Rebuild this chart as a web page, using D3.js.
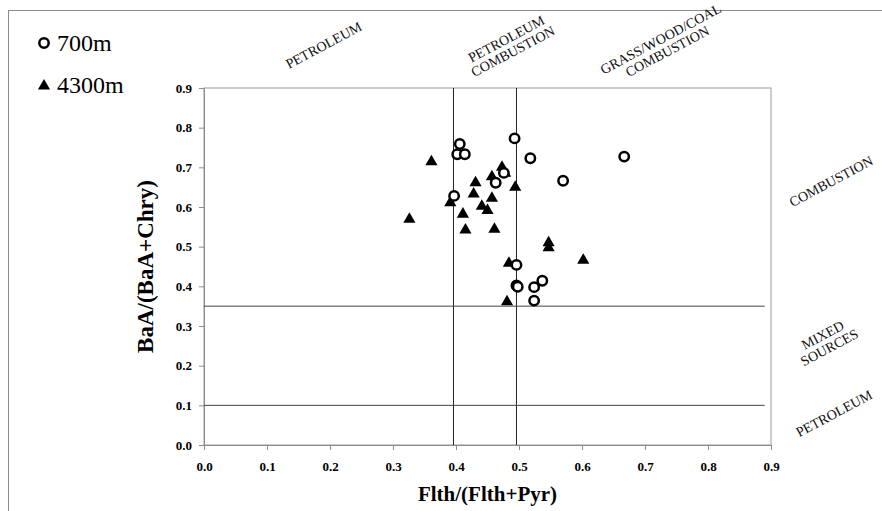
<!DOCTYPE html>
<html>
<head>
<meta charset="utf-8">
<script src="https://cdn.jsdelivr.net/npm/d3@7"></script>
<style>
  html, body { margin: 0; padding: 0; background: #fff; }
  svg { display: block; font-family: "Liberation Serif", "Times New Roman", serif; }
</style>
</head>
<body>
<svg id="chart" width="882" height="511"></svg>
<script>
// Fluoranthene / pyrene vs benz[a]anthracene / chrysene diagnostic ratios
const seriesNames = ["700m", "4300m"];

const x700 = [0.406, 0.402, 0.414, 0.493, 0.518, 0.667, 0.476, 0.463, 0.570, 0.397,
              0.496, 0.496, 0.498, 0.524, 0.537, 0.524];
const y700 = [0.759, 0.733, 0.733, 0.773, 0.723, 0.727, 0.686, 0.661, 0.666, 0.628,
              0.454, 0.402, 0.399, 0.398, 0.414, 0.364];

const x4300 = [0.361, 0.326, 0.473, 0.457, 0.478, 0.431, 0.428, 0.494, 0.391, 0.457,
               0.441, 0.450, 0.411, 0.415, 0.461, 0.547, 0.547, 0.602, 0.484, 0.481];
const y4300 = [0.714, 0.569, 0.700, 0.676, 0.685, 0.661, 0.633, 0.650, 0.611, 0.622,
               0.602, 0.591, 0.582, 0.542, 0.544, 0.510, 0.497, 0.466, 0.458, 0.361];

const xTicks = [0, 0.1, 0.2, 0.3, 0.4, 0.5, 0.6, 0.7, 0.8, 0.9];
const yTicks = [0, 0.1, 0.2, 0.3, 0.4, 0.5, 0.6, 0.7, 0.8, 0.9];

// source boundaries
const xBounds = [0.396, 0.496];
const yBounds = [0.35, 0.1];
const yBoundEnd = 0.89;

const topZones = [
  { x: 0.19, lines: ["PETROLEUM"] },
  { x: 0.485, lines: ["PETROLEUM", "COMBUSTION"] },
  { x: 0.73, lines: ["GRASS/WOOD/COAL", "COMBUSTION"] }
];
const rightZones = [
  { y: 0.665, dx: 3, lines: ["COMBUSTION"] },
  { y: 0.262, dx: -2, lines: ["MIXED", "SOURCES"] },
  { y: 0.08, dx: 6, lines: ["PETROLEUM"] }
];

const xTitle = "Flth/(Flth+Pyr)";
const yTitle = "BaA/(BaA+Chry)";

const svg = d3.select("#chart");
const x = d3.scaleLinear().domain([0, 0.9]).range([204, 771]);
const y = d3.scaleLinear().domain([0, 0.9]).range([445, 88]);

// outer chart frame
svg.append("rect")
  .attr("x", 8.5).attr("y", 10.5).attr("width", 1000).attr("height", 1000)
  .attr("fill", "none").attr("stroke", "#8c8c8c").attr("stroke-width", 1);

// plot frame
svg.append("rect")
  .attr("x", x(0)).attr("y", y(0.9))
  .attr("width", x(0.9) - x(0)).attr("height", y(0) - y(0.9))
  .attr("fill", "none").attr("stroke", "#9a9a9a").attr("stroke-width", 1);

// axes
const fmt = d3.format(".1f");
const gx = svg.append("g").attr("transform", `translate(0,${y(0)})`)
  .call(d3.axisBottom(x).tickValues(xTicks).tickFormat(fmt).tickSizeInner(5).tickSizeOuter(0).tickPadding(12));
const gy = svg.append("g").attr("transform", `translate(${x(0)},0)`)
  .call(d3.axisLeft(y).tickValues(yTicks).tickFormat(fmt).tickSizeInner(5).tickSizeOuter(0).tickPadding(7));
[gx, gy].forEach(g => {
  g.select(".domain").attr("stroke", "#8c8c8c");
  g.selectAll(".tick line").attr("stroke", "#8c8c8c");
  g.selectAll(".tick text")
    .attr("font-family", "Liberation Serif, serif")
    .attr("font-size", 13).attr("font-weight", "bold").attr("fill", "#000");
});

// boundary lines
svg.selectAll(".vb").data(xBounds).enter().append("line")
  .attr("x1", d => x(d)).attr("x2", d => x(d))
  .attr("y1", y(0.9)).attr("y2", y(0))
  .attr("stroke", "#222").attr("stroke-width", 1);
svg.selectAll(".hb").data(yBounds).enter().append("line")
  .attr("x1", x(0)).attr("x2", x(yBoundEnd))
  .attr("y1", d => y(d)).attr("y2", d => y(d))
  .attr("stroke", "#444").attr("stroke-width", 1);

// markers
const tri = d3.symbol().type(d3.symbolTriangle).size(64);
const pts4300 = x4300.map((v, i) => [v, y4300[i]]);
const pts700 = x700.map((v, i) => [v, y700[i]]);

svg.selectAll(".t4300").data(pts4300).enter().append("path")
  .attr("d", tri)
  .attr("transform", d => `translate(${x(d[0])},${y(d[1])})`)
  .attr("fill", "#000");

svg.selectAll(".c700").data(pts700).enter().append("circle")
  .attr("cx", d => x(d[0])).attr("cy", d => y(d[1]))
  .attr("r", 4.7)
  .attr("fill", "#fff").attr("stroke", "#000").attr("stroke-width", 2.5);

// legend
const lg = svg.append("g");
lg.append("circle").attr("cx", 44).attr("cy", 43).attr("r", 4.7)
  .attr("fill", "#fff").attr("stroke", "#000").attr("stroke-width", 2.5);
lg.append("text").attr("x", 57).attr("y", 51).attr("font-size", 24).text(seriesNames[0]);
lg.append("path").attr("d", tri).attr("transform", "translate(44,86)").attr("fill", "#000");
lg.append("text").attr("x", 57).attr("y", 93).attr("font-size", 24).text(seriesNames[1]);

// axis titles
svg.append("text")
  .attr("x", (x(0) + x(0.9)) / 2).attr("y", 501)
  .attr("text-anchor", "middle").attr("font-size", 21).attr("font-weight", "bold")
  .text(xTitle);
svg.append("text")
  .attr("transform", `translate(153,${(y(0) + y(0.9)) / 2}) rotate(-90)`)
  .attr("text-anchor", "middle").attr("font-size", 23).attr("font-weight", "bold")
  .text(yTitle);

// source zone labels
const angle = -28;
function zoneLabel(cx, cy, lines) {
  const g = svg.append("g").attr("transform", `translate(${cx},${cy}) rotate(${angle})`);
  const lh = 14;
  lines.forEach((t, i) => {
    g.append("text")
      .attr("x", 0).attr("y", (i - (lines.length - 1) / 2) * lh)
      .attr("dy", "0.35em")
      .attr("text-anchor", "middle").attr("font-size", 14).attr("fill", "#111")
      .text(t);
  });
}
topZones.forEach(z => zoneLabel(x(z.x), 45, z.lines));
rightZones.forEach(z => zoneLabel(828 + z.dx, y(z.y), z.lines));
</script>
</body>
</html>
